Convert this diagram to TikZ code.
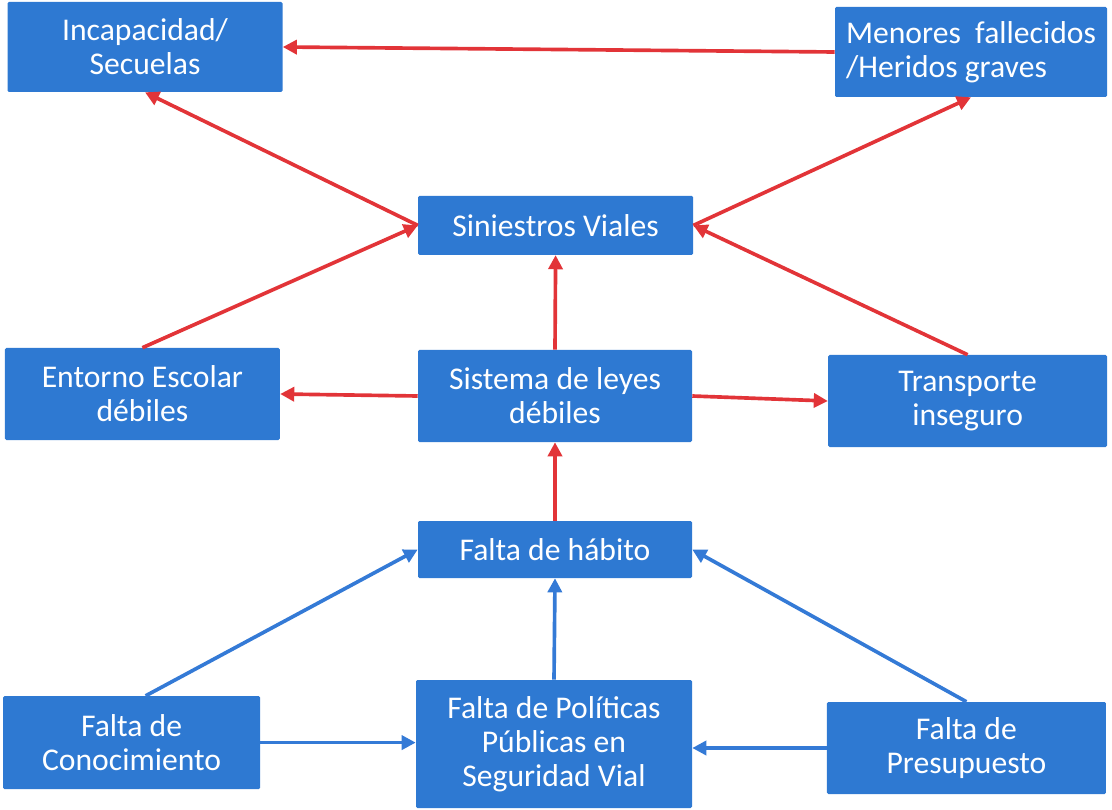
\documentclass[tikz,border=0pt]{standalone}
\usepackage{fontspec}
\setmainfont{Carlito}
\usepackage{tikz}
\usetikzlibrary{positioning,arrows.meta}
\definecolor{boxblue}{RGB}{46,121,210}
\definecolor{arrred}{RGB}{226,52,56}
\definecolor{arrblue}{RGB}{52,122,214}

\begin{document}
\begin{tikzpicture}[
    box/.style={fill=boxblue, rounded corners=1pt, text=white, align=center,
      font=\fontsize{22.5}{24}\selectfont, inner sep=0pt},
    redarrow/.style={-{Triangle[length=10pt,width=10pt]}, line width=2.6pt, arrred},
    bluearrow/.style={-{Triangle[length=10pt,width=10pt]}, line width=2.6pt, arrblue}
  ]
    % Frame
    \useasboundingbox (0, 0) rectangle (27.8, 20.225);

    % Effects
    \node[box, minimum width=6.875cm, minimum height=2.25cm] (inc) at (3.625, 19.05) {Incapacidad/\\Secuelas};
    \node[box, minimum width=6.8cm, minimum height=2.25cm, align=left] (men) at (24.275, 18.925) {Menores\ \ fallecidos\\/Heridos graves};
    \node[box, minimum width=6.875cm, minimum height=1.475cm] (sin) at (13.89, 14.59) {Siniestros Viales};

    % Middle row
    \node[box, minimum width=6.875cm, minimum height=2.3cm] (ent) at (3.56, 10.375) {Entorno Escolar\\débiles};
    \node[box, minimum width=6.85cm, minimum height=2.3cm] (sis) at (13.875, 10.325) {Sistema de leyes\\débiles};
    \node[box, minimum width=6.975cm, minimum height=2.3cm] (tra) at (24.19, 10.2) {Transporte\\inseguro};

    % Causes
    \node[box, minimum width=6.85cm, minimum height=1.425cm] (hab) at (13.875, 6.4875) {Falta de hábito};
    \node[box, minimum width=6.425cm, minimum height=2.325cm] (con) at (3.29, 1.66) {Falta de\\Conocimiento};
    \node[box, minimum width=6.9cm, minimum height=3.2cm] (pol) at (13.85, 1.625) {Falta de Políticas\\Públicas en\\Seguridad Vial};
    \node[box, minimum width=6.975cm, minimum height=2.3cm] (pre) at (24.16, 1.525) {Falta de\\Presupuesto};

    % Red arrows
    \draw[redarrow] (men.west) -- (inc.east);
    \draw[redarrow] (sin.west) -- (inc.south);
    \draw[redarrow] (sin.east) -- (men.south);
    \draw[redarrow] (ent.north) -- (sin.west);
    \draw[redarrow] (tra.north) -- (sin.east);
    \draw[redarrow] (sis.north) -- (sin.south);
    \draw[redarrow] (sis.west) -- (ent.east);
    \draw[redarrow] (sis.east) -- (tra.west);
    \draw[redarrow] (hab.north) -- (sis.south);

    % Blue arrows
    \draw[bluearrow] ([xshift=0.35cm]con.north) -- (hab.west);
    \draw[bluearrow] (pol.north) -- (hab.south);
    \draw[bluearrow] (pre.north) -- (hab.east);
    \draw[bluearrow] (con.east) -- (pol.west |- con.east);
    \draw[bluearrow] (pre.west) -- (pol.east |- pre.west);
\end{tikzpicture}
\end{document}
